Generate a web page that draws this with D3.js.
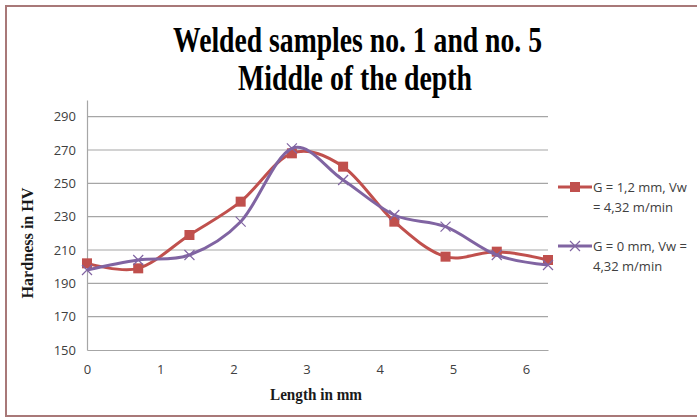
<!DOCTYPE html>
<html>
<head>
<meta charset="utf-8">
<script src="https://cdn.jsdelivr.net/npm/d3@7"></script>
<style>
  html, body { margin: 0; padding: 0; background: #fff; }
  svg { display: block; }
</style>
</head>
<body>
<svg id="chart" width="697" height="418"></svg>
<script>
// ---- Data ----
const lengths = [0, 0.7, 1.4, 2.1, 2.8, 3.5, 4.2, 4.9, 5.6, 6.3];
const seriesG12 = [202, 199, 219, 239, 268, 260, 227, 206, 209, 204];
const seriesG0  = [198, 204, 207, 227, 271, 252, 231, 224, 207, 201];
const xTicks = [0, 1, 2, 3, 4, 5, 6];
const yTicks = [150, 170, 190, 210, 230, 250, 270, 290];
const titleLines = ["Welded samples no. 1 and no. 5", "Middle of the depth"];
const xTitle = "Length in mm";
const yTitle = "Hardness in HV";
const legendLines = [["G = 1,2 mm, Vw", "= 4,32 m/min"], ["G = 0 mm, Vw =", "4,32 m/min"]];

const svg = d3.select("#chart");
const W = 697;
const plot = { left: 87, right: 548, top: 100, bottom: 350 };
const tickFont = "'Open Sans', sans-serif";
const serif = "'Liberation Serif', 'Times New Roman', serif";

// Outer border
svg.append("rect").attr("x", 6).attr("y", 6).attr("width", W).attr("height", 410)
  .attr("fill", "#fff").attr("stroke", "#a87878").attr("stroke-width", 2);

const x = d3.scaleLinear().domain([0, 6.3]).range([plot.left, plot.right]);
const y = d3.scaleLinear().domain([150, 300]).range([plot.bottom, plot.top]);

// Gridlines
svg.append("g").selectAll("line").data(yTicks.filter(d => d > 150)).join("line")
  .attr("x1", plot.left).attr("x2", plot.right)
  .attr("y1", d => y(d)).attr("y2", d => y(d))
  .attr("stroke", "#a6a6a6").attr("stroke-width", 1.2);

// Axes
const yAxis = d3.axisLeft(y).tickValues(yTicks).tickSize(0).tickPadding(11);
const gy = svg.append("g").attr("transform", `translate(${plot.left},0)`).call(yAxis);
gy.select(".domain").attr("stroke", "#a6a6a6").attr("stroke-width", 1.2);
gy.selectAll("text").attr("font-family", tickFont).attr("font-size", 13).attr("fill", "#404040");

const xAxis = d3.axisBottom(x).tickValues(xTicks).tickFormat(d3.format("d")).tickSize(0).tickPadding(15);
const gx = svg.append("g").attr("transform", `translate(0,${plot.bottom})`).call(xAxis);
gx.select(".domain").attr("stroke", "#a6a6a6").attr("stroke-width", 1.2);
gx.selectAll("text").attr("font-family", tickFont).attr("font-size", 13).attr("fill", "#404040");

// Titles (condensed serif, as in the reference)
const titleWidths = [369, 234];
const titleCenters = [357.5, 355];
titleLines.forEach((t, i) => {
  svg.append("text").attr("x", titleCenters[i]).attr("y", 52 + i * 38).attr("text-anchor", "middle")
    .attr("font-family", serif).attr("font-weight", "bold").attr("font-size", 36).attr("fill", "#000")
    .attr("textLength", titleWidths[i]).attr("lengthAdjust", "spacingAndGlyphs").text(t);
});

svg.append("text").attr("x", 316).attr("y", 400).attr("text-anchor", "middle")
  .attr("font-family", serif).attr("font-weight", "bold").attr("font-size", 17).attr("fill", "#1a1a1a")
  .attr("textLength", 92).attr("lengthAdjust", "spacingAndGlyphs").text(xTitle);

svg.append("text").attr("transform", "translate(33,243) rotate(-90)").attr("text-anchor", "middle")
  .attr("font-family", serif).attr("font-weight", "bold").attr("font-size", 16).attr("fill", "#1a1a1a")
  .attr("textLength", 111).attr("lengthAdjust", "spacingAndGlyphs").text(yTitle);

// Lines
const red = "#c0504d", purple = "#8064a2";
const line = d3.line().x(d => x(d[0])).y(d => y(d[1])).curve(d3.curveCardinal.tension(0));
const d1 = lengths.map((l, i) => [l, seriesG12[i]]);
const d2 = lengths.map((l, i) => [l, seriesG0[i]]);

svg.append("path").datum(d1).attr("d", line).attr("fill", "none").attr("stroke", red).attr("stroke-width", 3);
svg.append("g").selectAll("rect").data(d1).join("rect")
  .attr("x", d => x(d[0]) - 5).attr("y", d => y(d[1]) - 5).attr("width", 10).attr("height", 10)
  .attr("fill", red);

svg.append("path").datum(d2).attr("d", line).attr("fill", "none").attr("stroke", purple).attr("stroke-width", 3);
const cross = (g, cx, cy, s) => {
  g.append("path").attr("d", `M${cx - s},${cy - s}L${cx + s},${cy + s}M${cx - s},${cy + s}L${cx + s},${cy - s}`)
    .attr("stroke", purple).attr("stroke-width", 1.2).attr("fill", "none");
};
const gm = svg.append("g");
d2.forEach(d => cross(gm, x(d[0]), y(d[1]), 5));

// Legend
const legend = [
  { color: red, marker: "square", lines: legendLines[0], y: 187 },
  { color: purple, marker: "cross", lines: legendLines[1], y: 246 }
];
legend.forEach(L => {
  svg.append("line").attr("x1", 558).attr("x2", 592).attr("y1", L.y).attr("y2", L.y)
    .attr("stroke", L.color).attr("stroke-width", 3);
  if (L.marker === "square") {
    svg.append("rect").attr("x", 570).attr("y", L.y - 5).attr("width", 10).attr("height", 10).attr("fill", L.color);
  } else {
    cross(svg, 575, L.y, 5);
  }
  const t = svg.append("text").attr("font-family", tickFont).attr("font-size", 13).attr("fill", "#404040");
  L.lines.forEach((s, i) => t.append("tspan").attr("x", 593).attr("y", L.y + 5 + i * 20).text(s));
});
</script>
</body>
</html>
